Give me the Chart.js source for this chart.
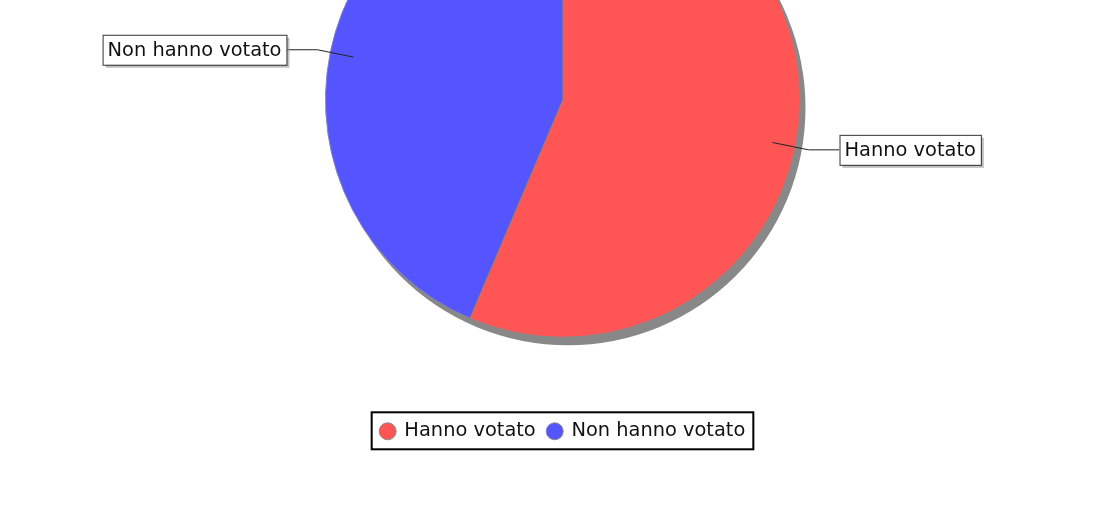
<!DOCTYPE html>
<html>
<head>
    <title>Votanti</title>
    <script src="https://cdn.jsdelivr.net/npm/chart.js"></script>
    <style>
        html, body {
            margin: 0;
            padding: 0;
            background: #ffffff;
            overflow: hidden;
        }
        .wrap {
            position: absolute;
            left: 0;
            top: -210px;
            width: 1120px;
            height: 730px;
        }
    </style>
</head>
<body>
    <div class="wrap">
        <canvas id="pieChart"></canvas>
    </div>
    <script>
        const labels = ['Hanno votato', 'Non hanno votato'];
        const values = [56.4, 43.6];
        const colors = ['#ff5555', '#5555ff'];

        const fontFamily = '"DejaVu Sans", sans-serif';

        // gray drop shadow under the pie
        const pieShadow = {
            id: 'pieShadow',
            beforeDatasetsDraw(chart) {
                const arc = chart.getDatasetMeta(0).data[0];
                if (!arc) return;
                const ctx = chart.ctx;
                ctx.save();
                ctx.fillStyle = '#888888';
                ctx.beginPath();
                ctx.arc(arc.x + 5, arc.y + 8, arc.outerRadius, 0, Math.PI * 2);
                ctx.fill();
                ctx.restore();
            }
        };

        // boxed labels with leader lines
        const boxLabels = {
            id: 'boxLabels',
            afterDatasetsDraw(chart) {
                const ctx = chart.ctx;
                const meta = chart.getDatasetMeta(0);
                ctx.save();
                ctx.font = '19.4px ' + fontFamily;
                meta.data.forEach((arc, i) => {
                    const mid = (arc.startAngle + arc.endAngle) / 2;
                    const dx = Math.cos(mid), dy = Math.sin(mid);
                    const r = arc.outerRadius;
                    const x1 = arc.x + dx * r * 0.9, y1 = arc.y + dy * r * 0.9;
                    const x2 = arc.x + dx * r * 1.055, y2 = arc.y + dy * r * 1.055;
                    const side = dx >= 0 ? 1 : -1;
                    const x3 = x2 + side * 31;

                    ctx.strokeStyle = '#222222';
                    ctx.lineWidth = 1;
                    ctx.beginPath();
                    ctx.moveTo(x1, y1);
                    ctx.lineTo(x2, y2);
                    ctx.lineTo(x3, y2);
                    ctx.stroke();

                    const text = labels[i];
                    const tw = ctx.measureText(text).width;
                    const bw = tw + 10, bh = 30;
                    const bx = side > 0 ? x3 : x3 - bw;
                    const by = y2 - bh / 2;

                    ctx.fillStyle = 'rgba(150,150,150,0.6)';
                    ctx.fillRect(bx + 3, by + 3, bw, bh);
                    ctx.fillStyle = '#ffffff';
                    ctx.fillRect(bx, by, bw, bh);
                    ctx.strokeStyle = '#333333';
                    ctx.strokeRect(bx + 0.5, by + 0.5, bw, bh);

                    ctx.fillStyle = '#111111';
                    ctx.textBaseline = 'middle';
                    ctx.textAlign = 'left';
                    ctx.fillText(text, bx + 5, by + bh / 2 + 1);
                });
                ctx.restore();
            }
        };

        // black frame around the legend
        const legendFrame = {
            id: 'legendFrame',
            afterDraw(chart) {
                const boxes = chart.legend && chart.legend.legendHitBoxes;
                if (!boxes || !boxes.length) return;
                const first = boxes[0], last = boxes[boxes.length - 1];
                const cy = first.top + first.height / 2;
                const ctx = chart.ctx;
                ctx.save();
                ctx.strokeStyle = '#000000';
                ctx.lineWidth = 2;
                const left = first.left - 9;
                const right = last.left + last.width + 8;
                ctx.strokeRect(left, cy - 19, right - left, 37);
                ctx.restore();
            }
        };

        const ctx = document.getElementById('pieChart').getContext('2d');
        const pieChart = new Chart(ctx, {
            type: 'pie',
            data: {
                labels: labels,
                datasets: [{
                    data: values,
                    backgroundColor: colors,
                    borderColor: '#8a8a8a',
                    borderWidth: 1,
                    hoverOffset: 0
                }]
            },
            options: {
                responsive: true,
                maintainAspectRatio: false,
                animation: false,
                layout: {
                    padding: { top: 0, bottom: 69, left: 325, right: 319 }
                },
                plugins: {
                    legend: {
                        position: 'bottom',
                        labels: {
                            usePointStyle: true,
                            pointStyle: 'circle',
                            boxWidth: 14,
                            boxHeight: 12,
                            padding: 12,
                            color: '#111111',
                            font: { family: fontFamily, size: 19.4 }
                        }
                    },
                    tooltip: { enabled: false }
                }
            },
            plugins: [pieShadow, boxLabels, legendFrame]
        });
    </script>
</body>
</html>
